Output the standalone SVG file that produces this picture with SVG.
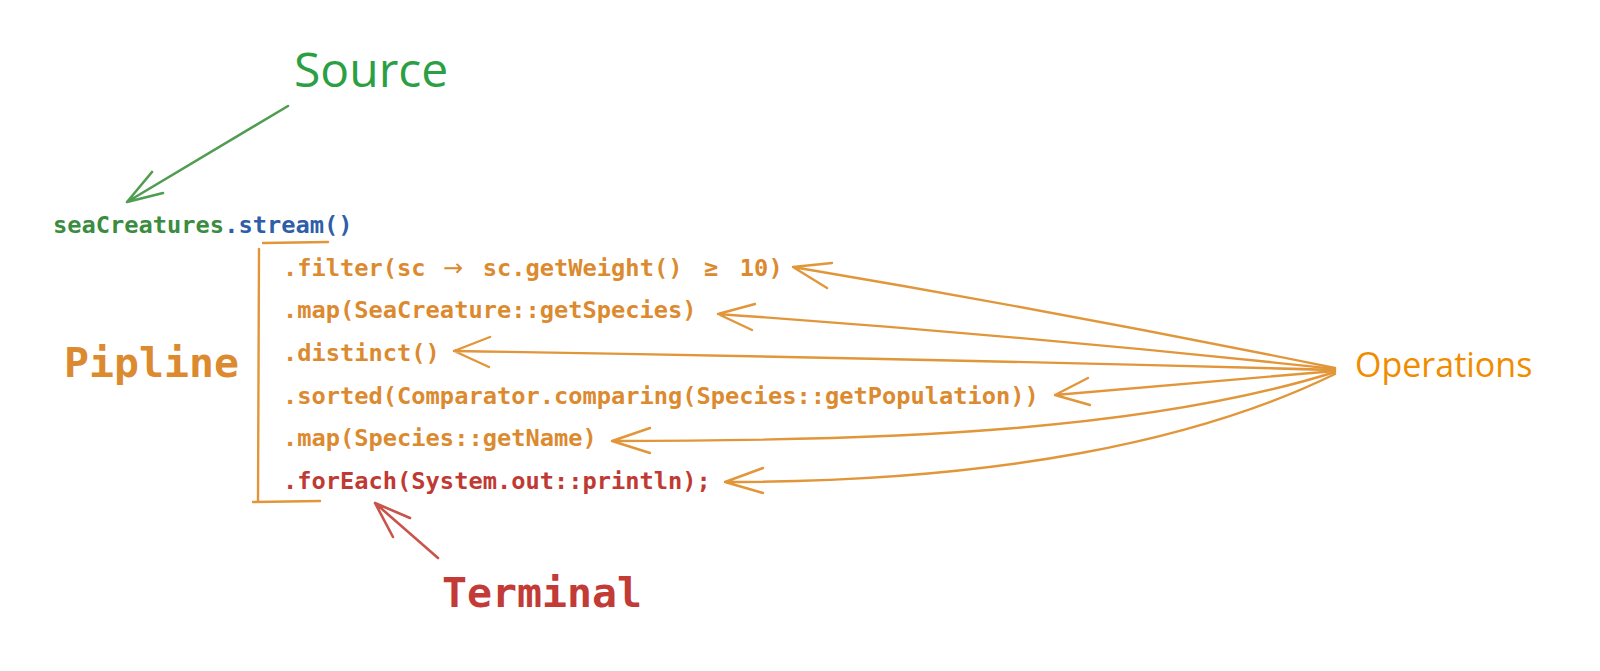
<svg xmlns="http://www.w3.org/2000/svg" width="1600" height="671" viewBox="0 0 1600 671">
<style>
.code{font-family:"DejaVu Sans Mono","Liberation Mono",monospace;font-size:23.7px;font-weight:bold}
.op{fill:#dc8a30}
.big{font-family:"DejaVu Sans Mono","Liberation Mono",monospace;font-size:41.5px;font-weight:bold}
.lbl{font-family:"Open Sans","Noto Sans",sans-serif;font-weight:500}
.oline{fill:none;stroke:#e2963a;stroke-width:2.4;stroke-linecap:round;stroke-linejoin:round}
.gline{fill:none;stroke:#4f9d50;stroke-width:2.6;stroke-linecap:round;stroke-linejoin:round}
.rline{fill:none;stroke:#c9544c;stroke-width:2.6;stroke-linecap:round;stroke-linejoin:round}
</style>
<rect width="1600" height="671" fill="#ffffff"/>

<g id="source">
<text class="lbl" x="294" y="87" font-size="48" font-weight="600" fill="#2c9f45">Source</text>
</g>
<g id="stream">
<text class="code" x="53" y="233"><tspan fill="#3b8c40">seaCreatures</tspan><tspan fill="#2f5ea8">.stream()</tspan></text>
</g>
<g id="pipeline-label">
<text class="big op" x="64" y="377">Pipline</text>
</g>
<g id="bracket">
<path class="oline" d="M263,243 L328,242 M259,249 L258,501 M253,502 L320,501"/>
</g>
<g id="ops">
<text class="code op" x="283" y="276">.filter(sc <tspan x="443" font-family="DejaVu Sans" font-weight="normal" font-size="24">→</tspan><tspan x="468.5"> sc.getWeight() </tspan><tspan x="704">≥</tspan><tspan x="725.6"> 10)</tspan></text>
<text class="code op" x="283" y="318">.map(SeaCreature::getSpecies)</text>
<text class="code op" x="283" y="361">.distinct()</text>
<text class="code op" x="283" y="404">.sorted(Comparator.comparing(Species::getPopulation))</text>
<text class="code op" x="283" y="446">.map(Species::getName)</text>
<text class="code" x="283" y="489" fill="#c03a34">.forEach(System.out::println);</text>
</g>
<g id="operations">
<text class="lbl" x="1355" y="377" font-size="34" fill="#f08c00">Operations</text>
</g>
<g id="terminal">
<text class="big" x="442" y="607" fill="#c23b36">Terminal</text>
</g>

<g id="connectors">
<path class="gline" d="M288,106 L127,202 M152,172 L127,202 L163,193"/>
<path class="rline" d="M438,558 L375,503 M410,518 L375,503 L393,537"/>
<path class="oline" d="M1335,368 Q1060,312 793,267 M832,263 L793,267 L827,288"/>
<path class="oline" d="M1335,369 Q1030,336 718,314 M755,304 L718,314 L752,330"/>
<path class="oline" d="M1335,370 Q900,358 454,351 M490,337 L454,351 L489,367"/>
<path class="oline" d="M1335,371 Q1190,383 1055,395 M1088,378 L1055,395 L1090,405"/>
<path class="oline" d="M1335,372 C1150,430 900,441 612,441 M650,428 L612,441 L650,453"/>
<path class="oline" d="M1335,374 C1200,440 1000,482 725,482 M763,468 L725,482 L763,493"/>
</g>
</svg>
